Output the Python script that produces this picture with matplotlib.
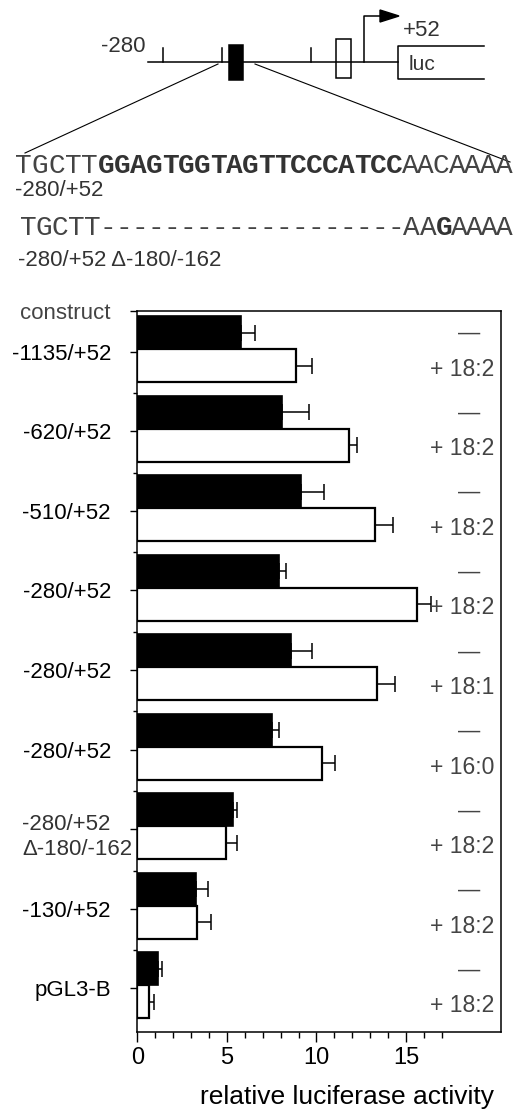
import matplotlib
matplotlib.use('Agg')
import matplotlib.pyplot as plt
import numpy as np
from matplotlib import font_manager as fm
from matplotlib.patches import Rectangle, Polygon
from matplotlib.ticker import FixedLocator

plt.rcParams['font.family'] = ['Liberation Sans', 'DejaVu Sans']

# ---- data -------------------------------------------------------------
constructs = ['-1135/+52', '-620/+52', '-510/+52', '-280/+52', '-280/+52',
              '-280/+52', '-280/+52\n\u0394-180/-162', '-130/+52', 'pGL3-B']
fatty_acid = ['18:2', '18:2', '18:2', '18:2', '18:1', '16:0',
              '18:2', '18:2', '18:2']
control = [5.8, 8.07, 9.13, 7.89, 8.56, 7.54, 5.33, 3.3, 1.17]
control_err = [0.76, 1.54, 1.31, 0.39, 1.18, 0.37, 0.23, 0.63, 0.2]
treated = [8.83, 11.83, 13.24, 15.63, 13.37, 10.3, 4.96, 3.33, 0.67]
treated_err = [0.93, 0.41, 1.04, 0.78, 1.02, 0.76, 0.6, 0.78, 0.24]


def have_font(name):
    try:
        fm.findfont(fm.FontProperties(family=name), fallback_to_default=False)
        return True
    except ValueError:
        return False


W, H = 517, 1114
fig = plt.figure(figsize=(W / 100., H / 100.), dpi=100)

# overlay in pixel coordinates for the promoter schematic
ov = fig.add_axes([0, 0, 1, 1])
ov.set_xlim(0, W)
ov.set_ylim(H, 0)
ov.axis('off')
ov.patch.set_visible(False)

lw = 1.1
ov.plot([148, 398], [62, 62], color='k', lw=lw)
for tx in [163, 222, 311]:
    ov.plot([tx, tx], [48, 62], color='k', lw=lw)
ov.add_patch(Rectangle((229, 45), 14, 35, facecolor='k', edgecolor='k', lw=lw))
ov.add_patch(Rectangle((336, 39), 15, 39, facecolor='w', edgecolor='k', lw=lw))
# transcription start arrow
ov.plot([364, 364, 381], [62, 16, 16], color='k', lw=lw)
ov.add_patch(Polygon([(380, 10), (399, 16), (380, 22)], closed=True,
                     facecolor='k', edgecolor='k'))
# luc box (open on the right)
ov.plot([484, 398, 398, 484], [46, 46, 79, 79], color='k', lw=lw)
# zoom lines
ov.plot([218, 25], [64, 153], color='k', lw=0.8)
ov.plot([255, 510], [64, 162], color='k', lw=0.8)

ov.text(146, 47, '-280', ha='right', va='center', fontsize=16, color='#333')
ov.text(403, 30, '+52', ha='left', va='center', fontsize=16, color='#333')
ov.text(409, 65, 'luc', ha='left', va='center', fontsize=15, color='#333')

if have_font('Liberation Mono'):
    reg = dict(family='Liberation Mono', fontsize=20, color='#444')
    bold = dict(family='Liberation Mono', fontsize=20, color='#333',
                weight='bold')
else:
    reg = dict(family='DejaVu Serif', fontsize=15.5, color='#444')
    bold = dict(family='DejaVu Sans Mono', fontsize=18, color='#333',
                weight='bold')


def seq_run(s, x0, y, style, step=16.0):
    for k, ch in enumerate(s):
        ov.text(x0 + step * (k + 0.5), y, ch, ha='center', va='baseline',
                **style)
    return x0 + step * len(s)


x = seq_run('TGCTT', 15, 173, reg, 16.6)
x = seq_run('GGAGTGGTAGTTCCCATCC', x, 173, bold)
seq_run('AACAAAA', x, 173, reg, 15.7)
ov.text(15, 190, '-280/+52', ha='left', va='center', fontsize=16,
        color='#333')

x = seq_run('TGCTT', 20, 235, reg)
x = seq_run('-' * 19, x, 235, reg)
x = seq_run('AA', 403, 235, reg, 17)
x = seq_run('G', x, 235, bold, 15)
seq_run('AAAA', x, 235, reg, 15)
ov.text(18, 260, '-280/+52 \u0394-180/-162', ha='left', va='center',
        fontsize=16, color='#333')

# ---- bar chart --------------------------------------------------------
x0px, x1px, y0px, y1px = 137.3, 501, 311, 1032
ax = fig.add_axes([x0px / W, 1 - y1px / H, (x1px - x0px) / W,
                   (y1px - y0px) / H])

n = len(constructs)
grp = np.arange(n)
bh = 0.415
yb = grp + bh / 2
yw = grp + bh * 1.5

ax.barh(yb, control, height=bh, color='k', edgecolor='k', lw=1.2)
ax.barh(yw, treated, height=bh, color='w', edgecolor='k', lw=1.6)
ax.errorbar(control, yb, xerr=[np.zeros(n), control_err], fmt='none',
            ecolor='k', elinewidth=1.1, capsize=5.5, capthick=1.1)
ax.errorbar(treated, yw, xerr=[np.zeros(n), treated_err], fmt='none',
            ecolor='k', elinewidth=1.1, capsize=5.5, capthick=1.1)

for i in grp:
    ax.text(18.5, i + 0.22, '\u2014', ha='center', va='center', fontsize=16,
            color='#444')
    ax.text(18.15, i + 0.67, '+ ' + fatty_acid[i], ha='center', va='center',
            fontsize=16.5, color='#444')

ax.set_xlim(0, 20.3)
ax.set_ylim(9.0, -0.063)

ax.set_xticks([0, 5, 10, 15])
ax.xaxis.set_minor_locator(FixedLocator(range(0, 18)))
ax.tick_params(axis='x', which='major', length=7, width=1, labelsize=17,
               pad=4)
ax.tick_params(axis='x', which='minor', length=4, width=1)

ylabels = ['construct'] + [c if '\n' not in c else '' for c in constructs]
ax.set_yticks([-0.063] + list(grp + 0.45))
ax.set_yticklabels(ylabels)
ax.yaxis.set_minor_locator(FixedLocator(grp[1:] - 0.03))
ax.tick_params(axis='y', which='major', length=5, width=1, labelsize=16,
               pad=14)
ax.tick_params(axis='y', which='minor', length=3, width=1)
ax.get_yticklabels()[0].set_color('#444')
for i, c in enumerate(constructs):
    if '\n' in c:
        ax.text(-115.3 / 17.9, i + 0.55, c, ha='left', va='center',
                fontsize=16, color='#333', linespacing=1.25)

for sp in ax.spines.values():
    sp.set_linewidth(1.1)

ax.set_xlabel('relative luciferase activity', fontsize=19)
ax.xaxis.set_label_coords(0.577, -0.09)
ax.xaxis.label.set_va('center')

fig.savefig('out.png', dpi=100)
